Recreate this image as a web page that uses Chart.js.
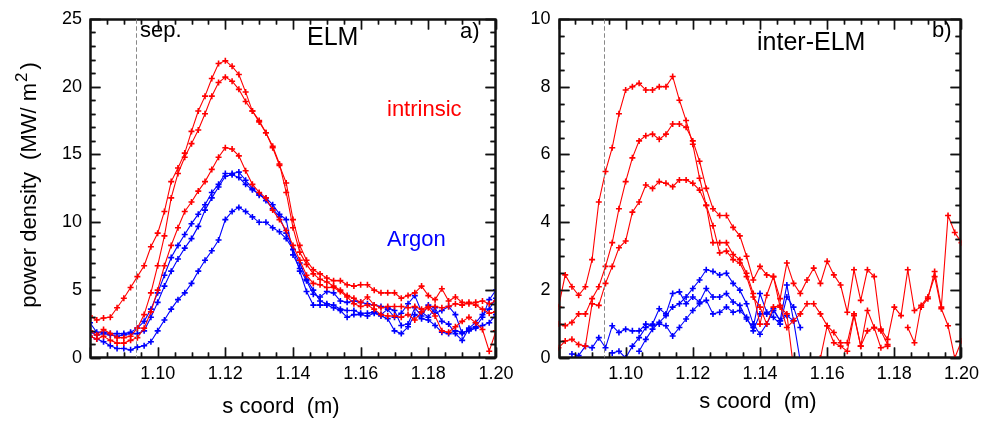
<!DOCTYPE html>
<html>
<head>
<meta charset="utf-8">
<script src="https://cdn.jsdelivr.net/npm/chart.js@4.4.0/dist/chart.umd.min.js"></script>
<style>
  body { margin: 0; background: #fff; }
  #wrap { position: relative; width: 984px; height: 425px; }
  #chartElm { position: absolute; left: 0; top: 0; }
  #chartInter { position: absolute; left: 500px; top: 0; }
</style>
</head>
<body>
<div id="wrap">
  <canvas id="chartElm" width="525" height="425"></canvas>
  <canvas id="chartInter" width="484" height="425"></canvas>
</div>
<script>
/* s coordinate of the profile points (m) */
const sCoord = [
  1.080, 1.082, 1.084, 1.086, 1.088, 1.090, 1.092, 1.094, 1.096, 1.098,
  1.100, 1.102, 1.104, 1.106, 1.108, 1.110, 1.112, 1.114, 1.116, 1.118,
  1.120, 1.122, 1.124, 1.126, 1.128, 1.130, 1.132, 1.134, 1.136, 1.138,
  1.140, 1.142, 1.144, 1.146, 1.148, 1.150, 1.152, 1.154, 1.156, 1.158,
  1.160, 1.162, 1.164, 1.166, 1.168, 1.170, 1.172, 1.174, 1.176, 1.178,
  1.180, 1.182, 1.184, 1.186, 1.188, 1.190, 1.192, 1.194, 1.196, 1.198,
  1.200
];
const sepPos = 1.0935;

/* a) ELM, intrinsic (red) */
const elmIntr1 = [
  3.1, 2.8, 2.95, 3.0, 3.7, 4.4, 5.2, 6.0, 6.8, 8.2,
  9.2, 10.8, 13.0, 14.0, 15.1, 16.7, 18.2, 19.3, 20.6, 21.7,
  21.9, 21.5, 20.9, 19.6, 18.2, 17.5, 16.6, 15.5, 14.2, 12.9,
  10.2, 8.3, 7.2, 6.5, 6.2, 5.9, 5.7, 5.7, 5.4, 5.3,
  5.4, 5.4, 5.0, 4.8, 4.8, 4.8, 4.4, 4.6, 4.8, 5.3,
  4.6, 4.3, 5.1, 4.2, 4.5, 4.1, 4.0, 4.1, 4.2, 4.0,
  4.2
];
const elmIntr2 = [
  2.0, 1.7, 2.1, 1.8, 1.5, 1.5, 1.6, 2.2, 3.2, 4.8,
  6.8, 9.0, 11.8, 13.6, 14.8, 15.8, 16.8, 18.0, 19.3, 20.3,
  20.7, 20.4, 19.8, 18.9, 18.2, 17.4, 16.6, 15.6, 14.3, 12.2,
  9.6, 7.8, 6.9, 6.2, 5.8, 5.6, 5.3, 5.0, 4.6, 4.4,
  4.1, 4.5, 3.9, 3.7, 3.8, 3.8, 3.8, 3.7, 3.8, 3.6,
  3.8, 3.8, 3.7, 3.8, 4.0, 3.9, 4.1, 3.9, 3.6, 3.3,
  3.4
];
const elmIntr3 = [
  1.6, 1.4, 1.6, 1.3, 1.1, 1.1, 1.3, 1.5, 2.2, 3.4,
  5.0, 6.8, 8.3, 9.6, 10.8, 11.5, 12.3, 13.0, 13.9, 14.8,
  15.5, 15.4, 14.9, 13.8, 12.8, 12.2, 11.8, 10.9, 10.2, 9.4,
  8.3, 7.2, 6.1, 5.5, 5.4, 5.2, 5.2, 4.9, 4.5, 4.0,
  3.8, 3.9, 3.6, 3.2, 3.1, 3.1, 3.0, 3.2, 2.8, 3.4,
  3.7, 3.1, 2.0, 1.9, 2.3, 2.7, 3.0, 2.6, 2.1, 0.5,
  2.0
];
/* a) ELM, Argon (blue) */
const elmAr1 = [
  2.6, 1.9, 1.9, 1.8, 1.8, 1.8, 1.9, 2.2, 2.7, 3.6,
  4.8, 6.1, 7.4, 8.3, 9.1, 9.9, 10.6, 11.3, 12.2, 12.8,
  13.6, 13.6, 13.7, 13.1, 12.5, 12.0, 11.8, 11.3, 10.6, 10.2,
  7.6, 6.6, 5.7, 4.7, 4.5, 4.9, 4.8, 4.2, 4.1, 4.2,
  4.1, 4.0, 3.9, 3.8, 3.7, 3.5, 2.4, 2.5, 3.7, 3.1,
  3.9, 3.3, 3.5, 3.8, 3.2, 1.8, 2.1, 2.3, 3.0, 4.3,
  5.0
];
const elmAr2 = [
  1.9, 1.7, 1.8, 1.7, 1.6, 1.7, 1.8, 1.8, 2.0, 3.0,
  4.1, 5.3, 6.4, 7.3, 8.1, 8.8, 9.7, 10.9, 11.8, 12.6,
  13.4, 13.5, 13.3, 12.8, 12.4, 12.1, 11.6, 11.0, 10.4, 9.2,
  8.0, 7.0, 5.8, 5.0, 4.2, 4.0, 3.9, 3.6, 3.5, 3.5,
  3.3, 3.3, 3.4, 3.2, 3.6, 3.0, 3.3, 4.0, 4.6, 3.4,
  3.0, 3.7, 2.7, 2.5, 1.8, 1.3, 2.2, 2.6, 3.2, 3.6,
  4.4
];
const elmAr3 = [
  1.6, 1.4, 1.2, 0.9, 0.7, 0.7, 0.6, 0.8, 0.9, 1.2,
  2.0, 2.8, 3.6, 4.3, 4.8, 5.5, 6.4, 7.2, 7.9, 8.7,
  10.2, 10.8, 11.1, 10.8, 10.4, 10.0, 10.0, 9.6, 9.3, 8.8,
  8.0, 6.4, 4.9, 3.9, 3.9, 3.9, 3.7, 3.5, 3.0, 3.2,
  3.2, 3.1, 3.3, 3.1, 2.9, 2.0, 1.8, 2.3, 3.2, 2.9,
  2.8, 2.4, 1.9, 1.8, 2.0, 1.9, 2.0, 2.2, 2.4, 2.6,
  3.2
];

/* b) inter-ELM, intrinsic (red) */
const interIntr1 = [
  1.5, 2.45, 2.1, 1.85, 2.1, 2.9, 4.6, 5.5, 6.2, 7.2,
  7.9, 8.0, 8.1, 7.9, 7.9, 8.0, 8.0, 8.3, 7.6, 7.0,
  6.3, 5.3, 4.5, 3.9, 3.1, 3.15, 2.9, 2.8, 2.4, 1.8,
  1.5, 1.0, 1.5, 1.55, 0.9, 1.1, 1.3, 1.6, 1.6, 1.3,
  0.95, 0.45, 0.35, 0.2, 1.25, 0.35, 0.8, 0.9, 0.3, 0.35,
  null, null, null, null, null, null, null, null, null, null,
  null
];
const interIntr2 = [
  1.0, 0.95, 1.05, 1.3, 1.3, 1.75, 2.1, 2.7, 3.4, 4.4,
  5.2, 5.9, 6.4, 6.55, 6.6, 6.45, 6.6, 6.9, 6.9, 6.8,
  6.4, 5.8, 5.0, 4.4, 4.2, 4.2, 3.85, 3.6, 3.0, 2.3,
  2.7, 2.45, 2.4, 1.75, 2.8, 2.2, 1.9, 2.3, 2.65, 2.2,
  2.85, 2.45, 2.15, 1.35, 2.6, 1.7, 2.6, 2.4, 0.85, 0.55,
  1.5, 1.25, 2.6, 1.4, 1.5, 1.75, 2.55, 1.5, 4.2, 3.7,
  3.4
];
const interIntr3 = [
  0.3, 0.5, 0.55, 0.4, 0.35, 1.6, 1.55, 2.2, 2.7, 3.25,
  3.45, 4.3, 4.6, 5.1, 5.0, 5.2, 5.15, 5.05, 5.25, 5.25,
  5.15, 4.95, 4.5, 3.4, 3.4, 3.4, 3.05, 2.9, 2.5, 1.9,
  1.0, 1.85, 2.4, 1.5, 1.3, -0.3, -0.6, -0.5, -0.2, 0.0,
  0.95, 0.75, 0.45, 0.45, 1.3, 0.35, 1.4, 0.9, 0.8, 0.4,
  null, null, 0.9, 0.45, 1.55, 1.8, 2.4, 1.45, 0.95, 0.0,
  0.5
];
/* b) inter-ELM, Argon (blue) */
const interAr1 = [
  null, null, 0.12, 0.07, 0.35, 0.3, 0.6, 0.3, 0.95, 0.75,
  0.85, 0.8, 0.8, 1.0, 0.95, 1.0, 0.95, 0.65, 0.9, 1.15,
  1.4, 1.6, 1.7, 1.3, 1.35, 1.5, 1.35, 1.4, 1.2, 0.8,
  1.3, 1.3, 1.45, 1.1, 2.15, 1.1, -0.1, null, null, null,
  null, null, null, null, null, null, null, null, null, null,
  null, null, null, null, null, null, null, null, null, null,
  null
];
const interAr2 = [
  null, null, null, null, null, null, null, null, 0.15, 0.2,
  0.0, 0.35, 0.6, 0.9, 1.0, 1.45, 1.3, 1.9, 1.95, 1.6,
  1.8, 1.65, 2.05, 1.8, 1.8, 1.9, 1.65, 1.55, 1.15, 0.9,
  1.9, 1.35, 1.2, 1.0, 1.8, 1.5, 0.9, null, null, null,
  null, null, null, null, null, null, null, null, null, null,
  null, null, null, null, null, null, null, null, null, null,
  null
];
const interAr3 = [
  null, null, null, null, null, null, null, null, null, null,
  null, null, 0.2, 0.55, 0.85, 1.05, 1.25, 1.5, 1.6, 1.8,
  2.05, 2.3, 2.6, 2.55, 2.45, 2.5, 2.2, 2.0, 1.6, 1.0,
  0.7, 1.0, 1.4, 1.1, 1.25, 1.1, null, null, null, null,
  null, null, null, null, null, null, null, null, null, null,
  null, null, null, null, null, null, null, null, null, null,
  null
];

const RED = '#ff0000';
const BLUE = '#0000ff';
const INK = '#111111';
const FAMILY = "'Liberation Sans', Arial, sans-serif";

function getDataset(values, color) {
  return {
    data: sCoord.map((s, i) => ({ x: s, y: values[i] })),
    borderColor: color,
    backgroundColor: color,
    borderWidth: 1.1,
    pointStyle: 'cross',
    pointRadius: 3,
    pointBorderWidth: 1.6,
    pointBorderColor: color,
    tension: 0,
    spanGaps: false
  };
}

function putText(ctx, text, x, y, size, color) {
  ctx.font = size + 'px ' + FAMILY;
  ctx.fillStyle = color;
  ctx.textAlign = 'left';
  ctx.textBaseline = 'alphabetic';
  ctx.fillText(text, x, y);
}

/* frame, inward ticks on all sides, separatrix line */
function drawFrame(chart, d) {
  const ctx = chart.ctx;
  const xs = chart.scales.x, ys = chart.scales.y;
  const L = Math.round(xs.left) + 0.5, R = Math.round(xs.right) - 0.5;
  const T = Math.round(ys.top) + 0.5, B = Math.round(ys.bottom) - 0.5;
  ctx.save();
  ctx.setLineDash([]);
  ctx.globalAlpha = 1;
  ctx.globalCompositeOperation = 'source-over';
  ctx.strokeStyle = INK;
  ctx.lineWidth = 2;
  ctx.strokeRect(L, T, R - L, B - T);
  ctx.lineWidth = 1.4;
  ctx.beginPath();
  for (let i = 0; i <= 24; i++) {
    const px = Math.round(xs.getPixelForValue(1.08 + i * 0.005)) + 0.5;
    const len = i % 4 === 0 ? 10 : 5;
    ctx.moveTo(px, B); ctx.lineTo(px, B - len);
    ctx.moveTo(px, T); ctx.lineTo(px, T + len);
  }
  const n = Math.round(d.yMax / d.yMinor);
  for (let i = 0; i <= n; i++) {
    const py = Math.round(ys.getPixelForValue(i * d.yMinor)) + 0.5;
    const len = i % d.yMajorEvery === 0 ? 10 : 5;
    ctx.moveTo(L, py); ctx.lineTo(L + len, py);
    ctx.moveTo(R, py); ctx.lineTo(R - len, py);
  }
  ctx.stroke();
  // separatrix
  const sx = Math.round(xs.getPixelForValue(sepPos)) + 0.5;
  ctx.strokeStyle = '#888';
  ctx.lineWidth = 1;
  ctx.setLineDash([4, 3]);
  ctx.beginPath();
  ctx.moveTo(sx, T);
  ctx.lineTo(sx, B);
  ctx.stroke();
  ctx.restore();
}

function drawLabels(chart, d) {
  const ctx = chart.ctx;
  ctx.save();
  d.texts.forEach(t => putText(ctx, t[0], t[1], t[2], t[3], t[4]));
  ctx.font = '22px ' + FAMILY;
  ctx.fillStyle = '#000';
  ctx.textAlign = 'center';
  ctx.textBaseline = 'middle';
  ctx.fillText('s coord  (m)', d.xTitle[0], d.xTitle[1]);
  if (d.yTitle) {
    ctx.translate(d.yTitle[0], d.yTitle[1]);
    ctx.rotate(-Math.PI / 2);
    ctx.textAlign = 'left';
    ctx.textBaseline = 'middle';
    const main = 'power density  (MW/ m';
    ctx.font = '22px ' + FAMILY;
    const w1 = ctx.measureText(main).width;
    const w3 = ctx.measureText(')').width;
    ctx.font = '17px ' + FAMILY;
    const w2 = ctx.measureText('2').width;
    const x0 = -(w1 + w2 + w3 + 4) / 2;
    ctx.font = '22px ' + FAMILY;
    ctx.fillText(main, x0, 0);
    ctx.font = '17px ' + FAMILY;
    ctx.fillText('2', x0 + w1 + 1, -8);
    ctx.font = '22px ' + FAMILY;
    ctx.fillText(')', x0 + w1 + w2 + 4, 0);
  }
  ctx.restore();
}

function getDecorPlugin(d) {
  return {
    id: 'decor',
    beforeDatasetsDraw(chart) { drawFrame(chart, d); },
    afterDraw(chart) { drawFrame(chart, d); drawLabels(chart, d); }
  };
}

function getChartConfig(datasets, d) {
  return {
    type: 'line',
    data: { datasets: datasets },
    options: {
      responsive: false,
      animation: false,
      devicePixelRatio: 1,
      layout: { padding: { top: 12, right: d.padRight, left: 0, bottom: 0 } },
      plugins: { legend: { display: false }, tooltip: { enabled: false } },
      scales: {
        x: {
          type: 'linear', min: 1.08, max: 1.2,
          grid: { display: false, drawTicks: false },
          border: { display: false },
          ticks: {
            stepSize: 0.02, padding: 5, color: '#000', maxRotation: 0, autoSkip: false,
            font: { family: FAMILY, size: 18 },
            callback: v => Math.abs(v - 1.08) < 1e-6 ? '' : v.toFixed(2)
          },
          afterFit: s => { s.height = 67; }
        },
        y: {
          type: 'linear', min: 0, max: d.yMax,
          grid: { display: false, drawTicks: false },
          border: { display: false },
          ticks: {
            stepSize: d.yLabelStep, padding: 8, color: '#000',
            font: { family: FAMILY, size: 18 }
          },
          afterFit: s => { s.width = d.yWidth; }
        }
      }
    },
    plugins: [getDecorPlugin(d)]
  };
}

function getChart(config, id) {
  const ctx = document.getElementById(id).getContext('2d');
  return new Chart(ctx, config);
}

/* a) ELM */
const elmSets = [
  getDataset(elmIntr1, RED), getDataset(elmIntr2, RED), getDataset(elmIntr3, RED),
  getDataset(elmAr1, BLUE), getDataset(elmAr2, BLUE), getDataset(elmAr3, BLUE)
];
getChart(getChartConfig(elmSets, {
  yMax: 25, yLabelStep: 5, yMinor: 1, yMajorEvery: 5, yWidth: 90, padRight: 29,
  xTitle: [281, 407], yTitle: [30, 185],
  texts: [
    ['sep.', 140, 37, 22, '#000'],
    ['ELM', 307, 45, 25, '#000'],
    ['a)', 460, 38, 22, '#000'],
    ['intrinsic', 387, 116, 22, RED],
    ['Argon', 387, 246, 22, BLUE]
  ]
}), 'chartElm');

/* b) inter-ELM */
const interSets = [
  getDataset(interIntr1, RED), getDataset(interIntr2, RED), getDataset(interIntr3, RED),
  getDataset(interAr1, BLUE), getDataset(interAr2, BLUE), getDataset(interAr3, BLUE)
];
getChart(getChartConfig(interSets, {
  yMax: 10, yLabelStep: 2, yMinor: 0.5, yMajorEvery: 4, yWidth: 58.5, padRight: 19.5,
  xTitle: [258, 402], yTitle: null,
  texts: [
    ['inter-ELM', 257, 50, 25, '#000'],
    ['b)', 432, 37, 22, '#000']
  ]
}), 'chartInter');
</script>
</body>
</html>
